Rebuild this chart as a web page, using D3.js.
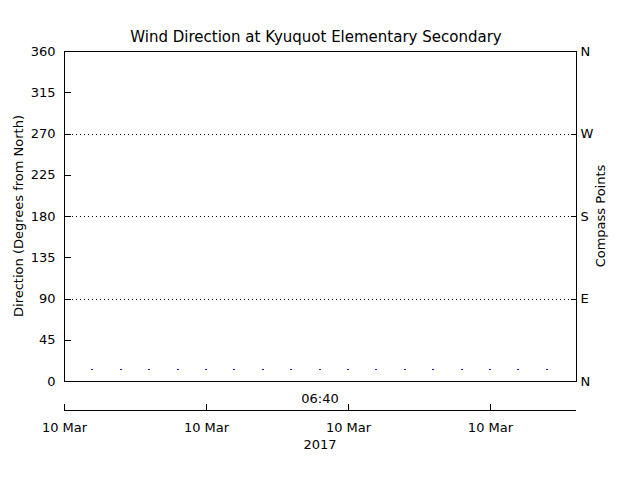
<!DOCTYPE html><html><head><meta charset="utf-8"><script src="https://cdn.jsdelivr.net/npm/d3@7"></script>
<style>body{margin:0;background:#fff}text{font-family:"DejaVu Sans",sans-serif;font-size:13px;fill:#000}</style></head><body><script>
const sampleIdx=[1,2,3,4,5,6,7,8,9,10,11,12,13,14,15,16,17];
const dirValues=[13,13,13,13,13,13,13,13,13,13,13,13,13,13,13,13,13];
const leftTicks=[0,45,90,135,180,225,270,315,360];
const compassTicks=[0,90,180,270,360];
const compassLabels=["N","E","S","W","N"];
const timeTicks=[0,5,10,15];
const timeLabels=["10 Mar","10 Mar","10 Mar","10 Mar"];
const W=640,H=480,L=64,R=576,T=51,B=381;
const svg=d3.select("body").append("svg").attr("width",W).attr("height",H).attr("shape-rendering","crispEdges");
const x=d3.scaleLinear().domain([0,18.03]).range([L,R]);
const y=d3.scaleLinear().domain([0,360]).range([B,T]);
svg.selectAll(".g").data([90,180,270]).enter().append("line").attr("x1",L).attr("x2",R).attr("y1",d=>y(d)+.5).attr("y2",d=>y(d)+.5).attr("stroke","#000").attr("stroke-dasharray","1,3");
svg.append("rect").attr("x",L+.5).attr("y",T+.5).attr("width",R-L).attr("height",B-T).attr("fill","none").attr("stroke","#000");
const la=svg.append("g").attr("transform",`translate(${L+.5},0)`).call(d3.axisLeft(y).tickValues(leftTicks).tickSizeInner(-6).tickSizeOuter(0).tickPadding(9));
const ra=svg.append("g").attr("transform",`translate(${R+.5},0)`).call(d3.axisRight(y).tickValues(compassTicks).tickFormat((d,i)=>compassLabels[i]).tickSizeInner(-6).tickSizeOuter(0).tickPadding(4));
[la,ra].forEach(a=>{a.select(".domain").remove();a.selectAll("text").style("font-size","13px").style("font-family","DejaVu Sans");});
svg.selectAll(".p").data(sampleIdx).enter().append("rect").attr("x",d=>Math.round(x(d))-1).attr("width",2).attr("height",1).attr("y",(d,i)=>Math.round(y(dirValues[i]))).attr("fill","#4a10d0");
const ta=svg.append("g").attr("transform","translate(0,410.5)").call(d3.axisBottom(x).tickValues(timeTicks).tickFormat((d,i)=>timeLabels[i]).tickSizeInner(-7).tickSizeOuter(0).tickPadding(12));
ta.select(".domain").attr("d",`M${L},0H${R}`);
ta.selectAll("text").style("font-size","13px").style("font-family","DejaVu Sans");
svg.append("text").attr("x",320).attr("y",403).attr("text-anchor","middle").text("06:40");
svg.append("text").attr("x",320).attr("y",449).attr("text-anchor","middle").text("2017");
svg.append("text").attr("x",316).attr("y",42).attr("text-anchor","middle").style("font-size","15px").text("Wind Direction at Kyuquot Elementary Secondary");
svg.append("text").attr("transform","translate(23,216) rotate(-90)").attr("text-anchor","middle").text("Direction (Degrees from North)");
svg.append("text").attr("transform","translate(605,216) rotate(-90)").attr("text-anchor","middle").text("Compass Points");
</script></body></html>
